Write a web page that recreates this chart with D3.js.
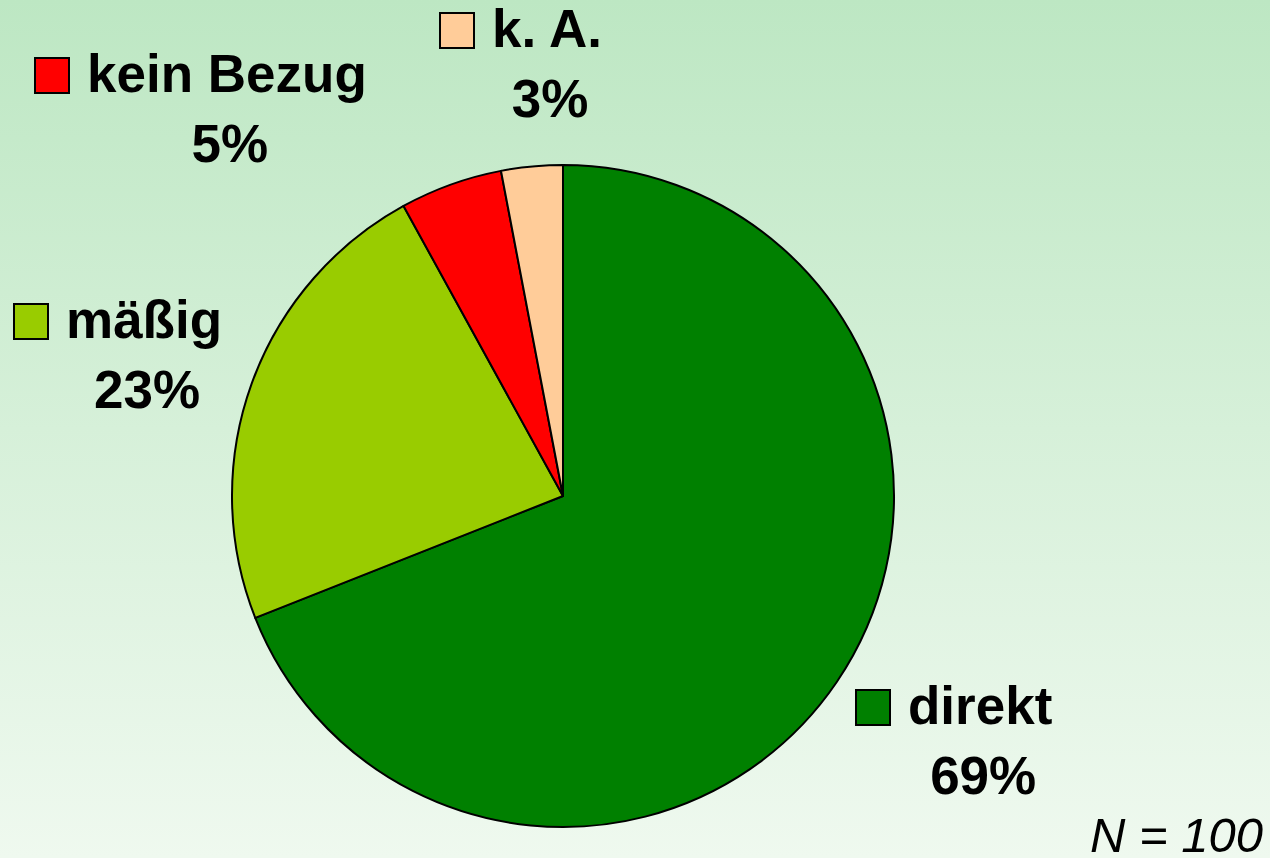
<!DOCTYPE html>
<html>
<head>
<meta charset="utf-8">
<script src="https://cdn.jsdelivr.net/npm/d3@7"></script>
<style>
  html, body { margin: 0; padding: 0; }
  svg { display: block; }
</style>
</head>
<body>
<svg id="canvas" width="1270" height="858"></svg>
<script>
// data
let categories = ["direkt", "mäßig", "kein Bezug", "k. A."];
let values = [69, 23, 5, 3];
let colors = ["#008000", "#99cc00", "#ff0000", "#ffcc99"];
let note = "N = 100";

// label placement (square left x, first baseline y)
let labelPos = [[856, 724], [14, 338], [35, 92], [440, 47]];

let width = 1270;
let height = 858;

let svg = d3.select("#canvas");

let defs = svg.append("defs");
let grad = defs.append("linearGradient")
    .attr("id", "bg")
    .attr("x1", "0").attr("y1", "0")
    .attr("x2", "0").attr("y2", "1");
grad.append("stop").attr("offset", "0").attr("stop-color", "#bde7c3");
grad.append("stop").attr("offset", "1").attr("stop-color", "#eff9ef");

svg.append("rect")
    .attr("width", width)
    .attr("height", height)
    .attr("fill", "url(#bg)");

let pie = d3.pie().sort(null).value(d => d);
let arc = d3.arc().innerRadius(0).outerRadius(331);

let pieG = svg.append("g").attr("transform", "translate(563,496)");

pieG.selectAll("path")
    .data(pie(values))
    .enter()
    .append("path")
    .attr("d", arc)
    .attr("fill", (d, i) => colors[i])
    .attr("stroke", "#000")
    .attr("stroke-width", 2)
    .attr("stroke-linejoin", "round");

let labels = svg.selectAll("g.label")
    .data(categories)
    .enter()
    .append("g")
    .attr("class", "label");

labels.each(function (name, i) {
    let g = d3.select(this);
    let x = labelPos[i][0];
    let y = labelPos[i][1];

    g.append("rect")
        .attr("x", x)
        .attr("y", y - 34)
        .attr("width", 34)
        .attr("height", 35)
        .attr("fill", colors[i])
        .attr("stroke", "#000")
        .attr("stroke-width", 2);

    let t = g.append("text")
        .attr("x", x + 52)
        .attr("y", y)
        .attr("font-family", "Liberation Sans, Arial, sans-serif")
        .attr("font-weight", "bold")
        .attr("font-size", 53)
        .attr("fill", "#000")
        .text(name);

    let w = t.node().getComputedTextLength();
    let cx = x + 52 + w / 2;

    g.append("text")
        .attr("x", cx + 3)
        .attr("y", y + 70)
        .attr("text-anchor", "middle")
        .attr("font-family", "Liberation Sans, Arial, sans-serif")
        .attr("font-weight", "bold")
        .attr("font-size", 53)
        .attr("fill", "#000")
        .text(values[i] + "%");
});

svg.append("text")
    .attr("x", 1263)
    .attr("y", 852)
    .attr("text-anchor", "end")
    .attr("font-family", "Liberation Sans, Arial, sans-serif")
    .attr("font-style", "italic")
    .attr("font-size", 49)
    .attr("fill", "#000")
    .text(note);
</script>
</body>
</html>
